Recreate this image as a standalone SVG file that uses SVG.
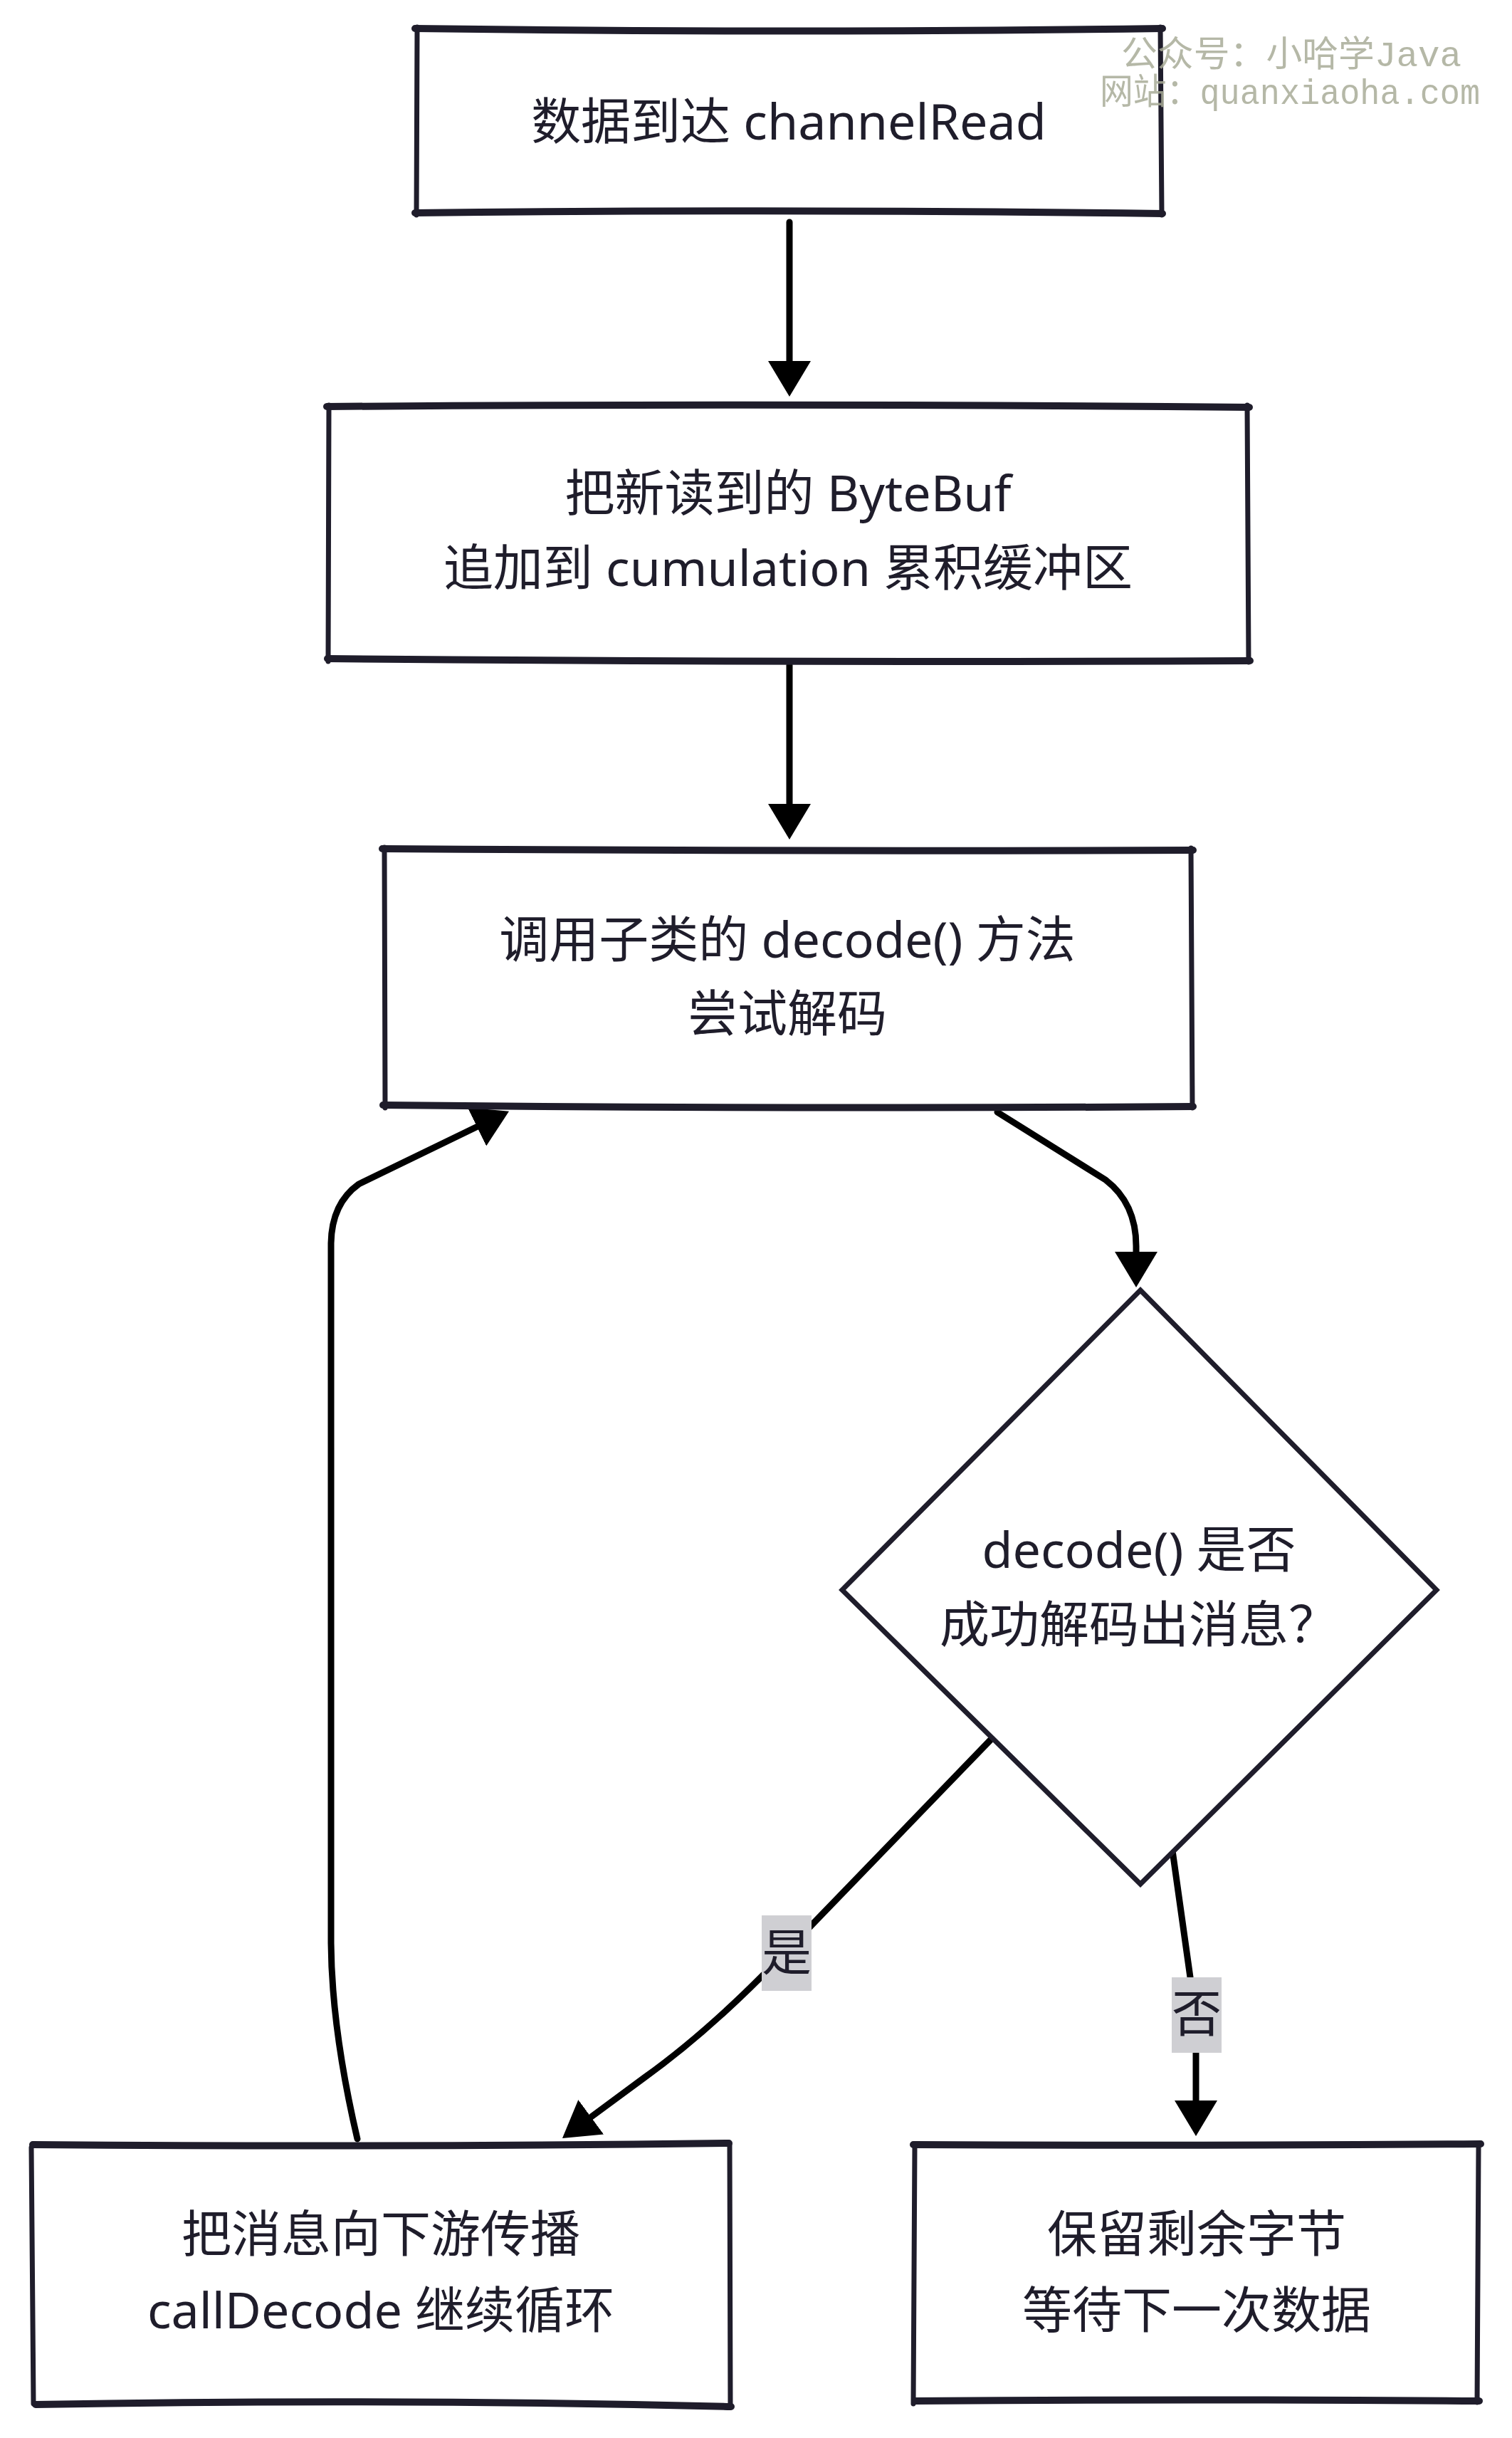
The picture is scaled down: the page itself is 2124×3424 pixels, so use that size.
<svg xmlns="http://www.w3.org/2000/svg" width="2124" height="3424" viewBox="0 0 2124 3424">
<defs>
<style>
.bx{fill:none;stroke:#1f1d2b;stroke-width:7;stroke-linecap:round;stroke-linejoin:round}
.bh{fill:none;stroke:#1f1d2b;stroke-width:10;stroke-linecap:round}
.fill{fill:#ffffff;stroke:none}
.t{font-family:"Noto Sans","Noto Sans CJK SC",sans-serif;font-size:70px;fill:#1f1d2b;text-anchor:middle}
.c{fill:none;stroke:#000;stroke-width:9;stroke-linecap:round;stroke-linejoin:round}
.lbg{fill:#cfcfd3}
.wm{font-family:"Liberation Mono","Noto Sans CJK SC",monospace;font-size:50px;fill:#a9ac98;opacity:0.85}
</style>
<marker id="ah" viewBox="0 0 50 60" refX="40" refY="30" markerWidth="50" markerHeight="60" markerUnits="userSpaceOnUse" orient="auto">
<path d="M0,0 L50,30 L0,60 Z" fill="#000"/>
</marker>
</defs>
<rect x="0" y="0" width="2124" height="3424" fill="#ffffff"/>

<g id="connectors">
<path class="c" d="M1109,312 L1109,547" marker-end="url(#ah)"/>
<path class="c" d="M1109,934 L1109,1169" marker-end="url(#ah)"/>
<path class="c" d="M1401,1562 L1553,1657 Q1596,1690 1596,1750 L1596,1798" marker-end="url(#ah)"/>
<path class="c" d="M502,3004 Q466,2850 465,2729 L465,1746 Q466,1690 504,1663 L706,1565" marker-end="url(#ah)"/>
<path class="c" d="M1391,2444 L1105,2740 Q1000,2850 905,2918 L798,2997" marker-end="url(#ah)"/>
<path class="c" d="M1647,2599 L1672,2777 L1680,2882 L1680,2990" marker-end="url(#ah)"/>
<g id="label-yes">
<rect class="lbg" x="1070" y="2690" width="70" height="106"/>
<text class="t" x="1105" y="2768">是</text>
</g>
<g id="label-no">
<rect class="lbg" x="1646" y="2777" width="70" height="106"/>
<text class="t" x="1681" y="2854">否</text>
</g>
</g>

<g id="n1">
<rect class="fill" x="585" y="40" width="1046" height="260"/>
<path class="bx" d="M1630,38 L1632,302 M586,38 L585,302"/>
<path class="bh" d="M583,40 Q1100,47 1633,40 M583,299 Q1100,293 1633,300"/>
<text class="t" x="1108" y="196">数据到达 channelRead</text>
</g>

<g id="n2">
<rect class="fill" x="461" y="571" width="1292" height="356"/>
<path class="bx" d="M1752,569 L1754,930 M462,569 L461,929"/>
<path class="bh" d="M459,571 Q1100,566 1755,572 M460,925 Q1100,931 1756,928"/>
<text class="t" x="1107" y="718">把新读到的 ByteBuf</text>
<text class="t" x="1107" y="823">追加到 cumulation 累积缓冲区</text>
</g>

<g id="n3">
<rect class="fill" x="539" y="1193" width="1135" height="360"/>
<path class="bx" d="M1673,1191 L1675,1556 M540,1190 L541,1556"/>
<path class="bh" d="M537,1192 Q1100,1196 1676,1194 M538,1552 Q1100,1558 1676,1554"/>
<text class="t" x="1106" y="1345">调用子类的 decode() 方法</text>
<text class="t" x="1106" y="1449">尝试解码</text>
</g>

<g id="n4">
<path d="M1602,1812 L2018,2233 L1602,2646 L1183,2233 Z" fill="#ffffff" stroke="#1f1d2b" stroke-width="7" stroke-linejoin="miter"/>
<text class="t" x="1600" y="2202">decode() 是否</text>
<text class="t" x="1600" y="2307">成功解码出消息？</text>
</g>

<g id="n5">
<rect class="fill" x="44" y="3013" width="982" height="365"/>
<path class="bx" d="M1025,3012 L1026,3380 M44,3016 L47,3376"/>
<path class="bh" d="M46,3012 Q540,3016 1024,3010 M50,3377 Q540,3368 1027,3380"/>
<text class="t" x="535" y="3163">把消息向下游传播</text>
<text class="t" x="535" y="3270">callDecode 继续循环</text>
</g>

<g id="n6">
<rect class="fill" x="1284" y="3013" width="794" height="360"/>
<path class="bx" d="M2077,3016 L2075,3374 M1285,3014 L1283,3376"/>
<path class="bh" d="M1283,3012 Q1680,3014 2080,3011 M1286,3372 Q1680,3369 2078,3372"/>
<text class="t" x="1681" y="3163">保留剩余字节</text>
<text class="t" x="1681" y="3270">等待下一次数据</text>
</g>

<g id="watermark">
<text class="wm" x="1575" y="93" textLength="478" lengthAdjust="spacingAndGlyphs">公众号：小哈学Java</text>
<text class="wm" x="1545" y="146" textLength="534" lengthAdjust="spacingAndGlyphs">网站：quanxiaoha.com</text>
</g>
</svg>
